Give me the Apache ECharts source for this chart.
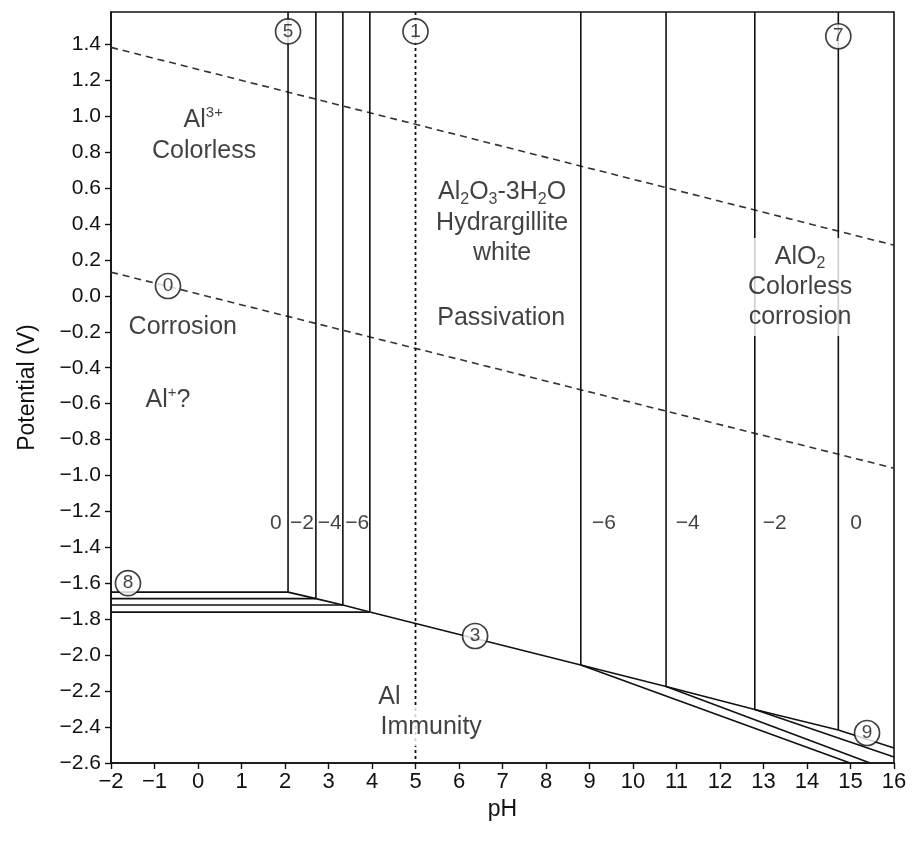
<!DOCTYPE html>
<html>
<head>
<meta charset="utf-8">
<title>Potential-pH diagram, aluminium</title>
<style>
  html, body { margin: 0; height: 100%; background: #fff; }
  #container { width: 914px; height: 844px; }
</style>
</head>
<body>
<div id="container"></div>
<script src="https://cdn.jsdelivr.net/npm/echarts@6/dist/echarts.min.js"></script>
<script>
var dom = document.getElementById('container');
var myChart = echarts.init(dom);
var ink = '#111';

// axis ticks
var potentialTicks = [-2.6, -2.4, -2.2, -2.0, -1.8, -1.6, -1.4, -1.2, -1.0, -0.8, -0.6, -0.4, -0.2,
    0.0, 0.2, 0.4, 0.6, 0.8, 1.0, 1.2, 1.4];
var potentialTop = 1.58;

// water lines (dashed), [pH, E] at both ends
var oxygenLine = [[-2, 1.383], [16, 0.282]];
var hydrogenLine = [[-2, 0.132], [16, -0.959]];
var dottedPH = 5;

// Al3+ / hydrargillite boundaries (log conc 0, -2, -4, -6)
var acidConc = ['0', '\u22122', '\u22124', '\u22126'];
var acidPH = [2.07, 2.71, 3.33, 3.95];
var acidE = [-1.649, -1.685, -1.721, -1.760];

// hydrargillite / AlO2- boundaries (log conc -6, -4, -2, 0)
var basicConc = ['\u22126', '\u22124', '\u22122', '0'];
var basicPH = [8.80, 10.76, 12.80, 14.72];
var basicE = [-2.055, -2.174, -2.302, -2.416];
// Al / AlO2- lines, where they leave the frame
var basicEndPH = [14.99, 15.45, 16, 16];
var basicEndE = [-2.6, -2.6, -2.567, -2.517];

// concentration labels
var concE = -1.265;
var acidConcPH = [1.79, 2.39, 3.03, 3.66];
var basicConcPH = [9.33, 11.26, 13.26, 15.13];

// circled line numbers
var circleNames = ['5', '1', '7', '0', '8', '3', '9'];
var circlePH = [2.07, 5.0, 14.72, -0.69, -1.61, 6.37, 15.38];
var circleE = [1.472, 1.472, 1.445, 0.055, -1.599, -1.893, -2.433];

// region texts
var regionText = ['{n|Al}{sup|3+}', 'Colorless', '{n|Al}{sub|2}{n|O}{sub|3}{n|-3H}{sub|2}{n|O}',
    'Hydrargillite', 'white', 'Passivation', 'Corrosion', '{n|Al}{sup|+}{n|?}', 'Al'];
var regionPH = [0.12, 0.14, 6.99, 6.99, 6.99, 6.97, -0.35, -0.69, 4.40];
var regionE = [0.977, 0.805, 0.577, 0.404, 0.237, -0.124, -0.174, -0.58, -2.233];

// texts that interrupt the lines behind them
var maskedText = ['{n|AlO}{sub|2}\nColorless\ncorrosion', 'Immunity'];
var maskedPH = [13.84, 5.36];
var maskedE = [0.05, -2.40];

function minus(v) {
    return String(v).replace('-', '\u2212');
}

function seg(points) {
    return {
        type: 'line', data: points, symbol: 'none', silent: true, z: 2,
        lineStyle: { color: ink, width: 1.6 }
    };
}

var series = [];
series.push(Object.assign(seg(oxygenLine), { lineStyle: { color: '#333', width: 1.6, type: [7, 5] } }));
series.push(Object.assign(seg(hydrogenLine), { lineStyle: { color: '#333', width: 1.6, type: [7, 5] } }));
series.push(Object.assign(seg([[dottedPH, potentialTop], [dottedPH, -2.6]]),
    { lineStyle: { color: ink, width: 1.8, type: [3, 3] } }));

// horizontal Al / Al3+ lines and vertical Al3+ / oxide lines
acidPH.forEach(function (ph, i) {
    series.push(seg([[-2, acidE[i]], [ph, acidE[i]]]));
    series.push(seg([[ph, acidE[i]], [ph, potentialTop]]));
});

// Al / oxide line (3) through all corners
var line3 = [];
acidPH.forEach(function (ph, i) { line3.push([ph, acidE[i]]); });
basicPH.forEach(function (ph, i) { line3.push([ph, basicE[i]]); });
series.push(seg(line3));

// vertical oxide / AlO2- lines and Al / AlO2- lines
basicPH.forEach(function (ph, i) {
    series.push(seg([[ph, basicE[i]], [ph, potentialTop]]));
    series.push(seg([[ph, basicE[i]], [basicEndPH[i], basicEndE[i]]]));
});

var labelFont = 'Liberation Sans, Arial, sans-serif';
var clear = { color: 'rgba(0,0,0,0)' };

// concentration numbers
series.push({
    type: 'scatter', silent: true, z: 4, symbolSize: 1, itemStyle: clear,
    data: acidPH.map(function (p, i) { return { value: [acidConcPH[i], concE], name: acidConc[i] }; })
        .concat(basicPH.map(function (p, i) { return { value: [basicConcPH[i], concE], name: basicConc[i] }; })),
    label: {
        show: true, position: 'inside', formatter: '{b}', textBorderWidth: 0,
        fontSize: 21, color: ink, fontFamily: labelFont
    }
});

// circled numbers
series.push({
    type: 'scatter', silent: true, z: 5, symbol: 'circle', symbolSize: 25,
    itemStyle: { color: '#fff', borderColor: ink, borderWidth: 1.7 },
    data: circleNames.map(function (n, i) { return { value: [circlePH[i], circleE[i]], name: n }; }),
    label: {
        show: true, position: 'inside', formatter: '{b}', textBorderWidth: 0,
        fontSize: 19, color: ink, fontFamily: labelFont
    }
});

var rich = {
    n: { fontSize: 25, color: ink, fontFamily: labelFont, lineHeight: 30 },
    sup: { fontSize: 15, color: ink, fontFamily: labelFont, verticalAlign: 'top', lineHeight: 20 },
    sub: { fontSize: 16, color: ink, fontFamily: labelFont, verticalAlign: 'bottom', lineHeight: 18 }
};

series.push({
    type: 'scatter', silent: true, z: 6, symbolSize: 1, itemStyle: clear,
    data: regionText.map(function (t, i) { return { value: [regionPH[i], regionE[i]], name: t }; }),
    label: {
        show: true, position: 'inside', formatter: '{b}', align: 'center', textBorderWidth: 0,
        fontSize: 25, lineHeight: 30, color: ink, fontFamily: labelFont, rich: rich
    }
});

series.push({
    type: 'scatter', silent: true, z: 6, symbolSize: 1, itemStyle: clear,
    data: maskedText.map(function (t, i) { return { value: [maskedPH[i], maskedE[i]], name: t }; }),
    label: {
        show: true, position: 'inside', formatter: '{b}', align: 'center', textBorderWidth: 0,
        fontSize: 25, lineHeight: 30, color: ink, fontFamily: labelFont, rich: rich,
        backgroundColor: '#fff', padding: [4, 2]
    }
});

var option = {
    animation: false,
    backgroundColor: '#fff',
    grid: {
        left: 111, right: 20, top: 12, bottom: 81,
        show: true, borderColor: ink, borderWidth: 1.6
    },
    xAxis: {
        type: 'value', min: -2, max: 16, interval: 1,
        name: 'pH', nameLocation: 'middle', nameGap: 34,
        nameTextStyle: { fontSize: 23, color: ink, fontFamily: labelFont },
        axisLine: { onZero: false, lineStyle: { color: ink, width: 1.6 } },
        axisTick: { length: 6, lineStyle: { color: ink, width: 1.4 } },
        axisLabel: { fontSize: 22, color: ink, fontFamily: labelFont, margin: 8, formatter: minus },
        splitLine: { show: false }
    },
    yAxis: {
        type: 'value', min: -2.6, max: potentialTop,
        name: 'Potential (V)', nameLocation: 'middle', nameGap: 72,
        nameTextStyle: { fontSize: 23, color: ink, fontFamily: labelFont },
        axisLine: { show: true, onZero: false, lineStyle: { color: ink, width: 1.6 } },
        axisTick: { show: true, length: 6, customValues: potentialTicks, lineStyle: { color: ink, width: 1.4 } },
        axisLabel: {
            fontSize: 21, color: ink, fontFamily: labelFont, margin: 10,
            customValues: potentialTicks,
            formatter: function (v) { return minus(v.toFixed(1)); }
        },
        splitLine: { show: false }
    },
    series: series
};

myChart.setOption(option);
</script>
</body>
</html>
